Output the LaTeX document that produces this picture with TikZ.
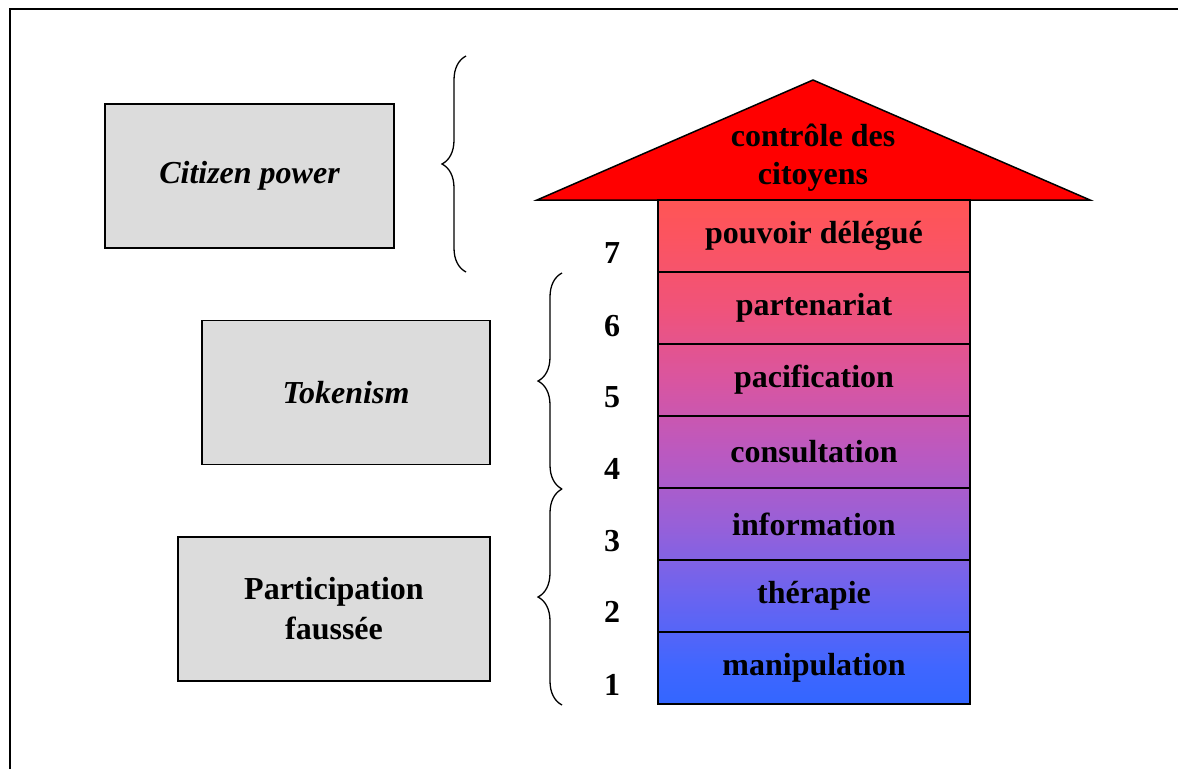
\documentclass[tikz,border=0pt]{standalone}
\usepackage{fontspec}
\setmainfont{Liberation Serif}
\usetikzlibrary{decorations.pathreplacing}
\definecolor{boxgray}{RGB}{220,220,220}
\definecolor{ladA}{RGB}{51,102,255}
\definecolor{ladB}{RGB}{63,102,255}
\definecolor{ladC}{RGB}{106,100,240}
\definecolor{ladD}{RGB}{152,96,216}
\definecolor{ladE}{RGB}{187,89,192}
\definecolor{ladF}{RGB}{217,85,160}
\definecolor{ladG}{RGB}{240,83,122}
\definecolor{ladH}{RGB}{252,84,96}
\definecolor{ladI}{RGB}{255,85,85}
\pgfdeclareverticalshading{ladder}{100bp}{color(0bp)=(ladA); color(25bp)=(ladA);
  color(28.57bp)=(ladB); color(35.71bp)=(ladC); color(42.86bp)=(ladD); color(50bp)=(ladE);
  color(57.14bp)=(ladF); color(64.29bp)=(ladG); color(71.43bp)=(ladH); color(75bp)=(ladI);
  color(100bp)=(ladI)}
\tikzset{
  levelbox/.style={draw, line width=1.5pt, fill=boxgray, minimum width=#1, minimum height=144pt,
    font=\fontsize{32}{40}\selectfont\bfseries, align=center, inner sep=0pt},
  rung/.style={draw, line width=1.8pt, minimum width=312pt, minimum height=72pt, inner sep=0pt,
    font=\fontsize{32}{38}\selectfont\bfseries},
  rungnum/.style={font=\fontsize{32}{38}\selectfont\bfseries},
  bracket/.style={line width=1.3pt, decorate, decoration={brace, amplitude=24pt}}
}
\begin{document}
\begin{tikzpicture}[x=1pt, y=-1pt]
  \useasboundingbox (0,0) rectangle (1178,769);
  % frame (only left and top edges are visible)
  \draw[line width=2pt] (10,769) -- (10,9) -- (1178,9);

  % the three groups on the left
  \node[levelbox=289pt] (citizen) at (249.5,176) {\itshape Citizen power};
  \node[levelbox=288pt] (token) at (346,392.5) {\itshape Tokenism};
  \node[levelbox=312pt] (fake) at (334,609) {Participation\\faussée};

  % braces
  \draw[bracket] (466,272) -- (466,56);
  \draw[bracket] (562,489) -- (562,273);
  \draw[bracket] (562,705) -- (562,489);

  % colour of the ladder
  \shade[shading=ladder] (658,200) rectangle (970,704);

  % arrow head
  \filldraw[fill=red, line width=1.5pt, line join=miter] (537,200) -- (813,80) -- (1090,200) -- cycle;
  \node[font=\fontsize{32}{38}\selectfont\bfseries, align=center] (control) at (813,158) {contrôle des\\citoyens};

  % the rungs
  \node[rung] (deleg) at (814,236) {pouvoir délégué};
  \node[rung] (partner) at (814,308) {partenariat};
  \node[rung] (pacif) at (814,380) {pacification};
  \node[rung] (consult) at (814,452) {consultation};
  \node[rung] (inform) at (814,524) {information};
  \node[rung] (therapy) at (814,596) {thérapie};
  \node[rung] (manip) at (814,668) {manipulation};

  % numbers of the rungs
  \node[rungnum] (n7) at (612,253) {7};
  \node[rungnum] (n6) at (612,326) {6};
  \node[rungnum] (n5) at (612,397) {5};
  \node[rungnum] (n4) at (612,469) {4};
  \node[rungnum] (n3) at (612,541) {3};
  \node[rungnum] (n2) at (612,612) {2};
  \node[rungnum] (n1) at (612,685) {1};
\end{tikzpicture}
\end{document}
